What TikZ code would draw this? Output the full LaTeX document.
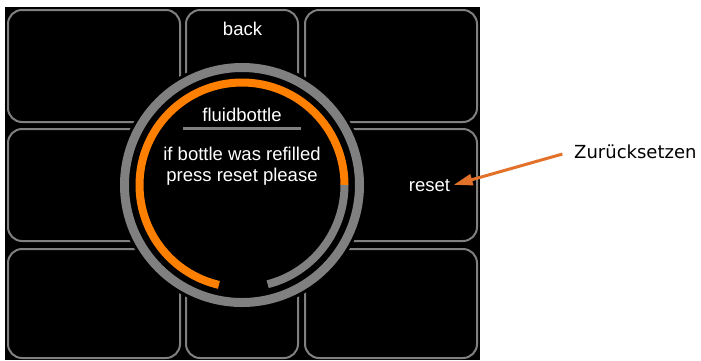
\documentclass[tikz,border=0pt]{standalone}
\usepackage{fontspec}
\setmainfont{Liberation Sans}
\newfontfamily\notefont{DejaVu Sans}
\usetikzlibrary{arrows.meta}
\definecolor{ringgray}{RGB}{128,128,128}
\definecolor{ringorange}{RGB}{255,128,0}
\definecolor{notearrow}{RGB}{226,114,42}

\begin{document}
\begin{tikzpicture}[x=1pt, y=-1pt,
	tile/.style={draw=ringgray, line width=2pt, rounded corners=14pt, minimum width=172pt, minimum height=112pt, inner sep=0pt},
	midtile/.style={tile, minimum width=112pt},
	lowtile/.style={minimum height=109pt},
	label/.style={text=white, font=\fontsize{18.5}{21}\selectfont, inner sep=0pt},
	ring/.style={line width=9pt, draw=ringgray},
	gauge/.style={line width=8pt},
	arr/.style={draw=notearrow, line width=3pt, -{Triangle[length=19pt, width=11pt]}}]
					\useasboundingbox (0,0) rectangle (701,360);
					\fill[black] (5,7) rectangle (480,360);
					% tiles
					\node[tile] (TL)at(94, 66) {};
					\node[midtile] (TM)at(242, 66) {};
					\node[tile] (TR)at(391, 66) {};
					\node[tile] (ML)at(94, 185) {};
					\node[tile] (MR)at(391, 185) {};
					\node[tile, lowtile] (BL)at(94, 303.5) {};
					\node[midtile, lowtile] (BM)at(242, 303.5) {};
					\node[tile, lowtile] (BR)at(391, 303.5) {};
					% dial
					\node[circle, fill=black, minimum size=250pt, inner sep=0pt] (dial)at(242, 185) {};
					\draw[ring] (dial.center) circle[radius=117.5pt];
					\draw[gauge, draw=ringorange] (dial.center) ++(0:102.5pt) arc[start angle=0, end angle=257, radius=102.5pt];
					\draw[gauge, draw=ringgray] (dial.center) ++(-75.5:102.5pt) arc[start angle=-75.5, end angle=0, radius=102.5pt];
					\node[label, anchor=base] (title)at(242, 121) {fluidbottle};
					\draw[draw=ringgray, line width=3pt] (183, 128.5) -- (301, 128.5);
					\node[label, anchor=base, align=center] (msg)at(242, 181) {if bottle was refilled\\press reset please};
					% buttons
					\node[label, anchor=base] (back)at(242.5, 35.7) {back};
					\node[label, anchor=base] (reset)at(429.5, 191.7) {reset};
					% note
					\node[anchor=base west, inner sep=3pt, font=\notefont\fontsize{18}{21}\selectfont] (note)at(571, 158.3) {Zurücksetzen};
					\draw[arr, shorten <=9pt, shorten >=3.5pt] (note.west) -- (reset.east);
				\end{tikzpicture}
\end{document}
